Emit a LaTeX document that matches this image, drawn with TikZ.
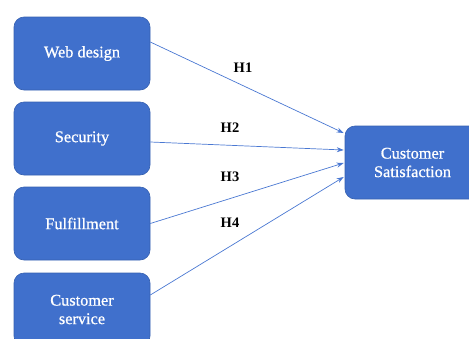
\documentclass[tikz,border=0pt]{standalone}
\usepackage{fontspec}
\setmainfont{Liberation Serif}
\newfontfamily\boxfont[FakeBold=0.8]{Liberation Serif}
\usetikzlibrary{arrows.meta,calc}
\definecolor{boxfill}{HTML}{4070CC}
\definecolor{boxedge}{HTML}{3560B0}
\definecolor{linkblue}{HTML}{4A78D2}
\tikzset{
  factor/.style={draw=boxedge, line width=0.6pt, fill=boxfill, rounded corners=10pt,
    minimum width=136pt, minimum height=73pt, text=white, align=center,
    font=\boxfont\fontsize{16.3}{18.5}\selectfont, inner sep=0pt},
  link/.style={draw=linkblue, line width=0.7pt, -{Stealth[length=7pt,width=5pt]}},
  hyp/.style={font=\fontsize{14.5}{16}\bfseries\selectfont, text=black, inner sep=0pt}
}
\begin{document}
\begin{tikzpicture}[x=1pt,y=-1pt]
\useasboundingbox (0,0) rectangle (469,338);
\clip (0,0) rectangle (469,338);
\node[factor] (web) at (82,53.5) {Web design};
\node[factor] (sec) at (82,138.5) {Security};
\node[factor] (ful) at (82,223.5) {Fulfillment};
\node[factor] (serv) at (82,309.5) {Customer\\service};
\node[factor, minimum width=135pt] (sat) at (412.5,162.5) {Customer\\Satisfaction};
\draw[link] ([yshift=11.5pt]web.east) -- ([xshift=-1pt,yshift=29.5pt]sat.west);
\draw[link] ([yshift=-3.5pt]sec.east) -- ([xshift=-1pt,yshift=12.5pt]sat.west);
\draw[link] (ful.east) -- ([xshift=-1pt,yshift=-0.5pt]sat.west);
\draw[link] ([yshift=14.5pt]serv.east) -- ([xshift=-1pt,yshift=-14.5pt]sat.west);
\node[hyp] (h1) at (243,68) {H1};
\node[hyp] (h2) at (230,128) {H2};
\node[hyp] (h3) at (230,177) {H3};
\node[hyp] (h4) at (230,223) {H4};
\end{tikzpicture}
\end{document}
